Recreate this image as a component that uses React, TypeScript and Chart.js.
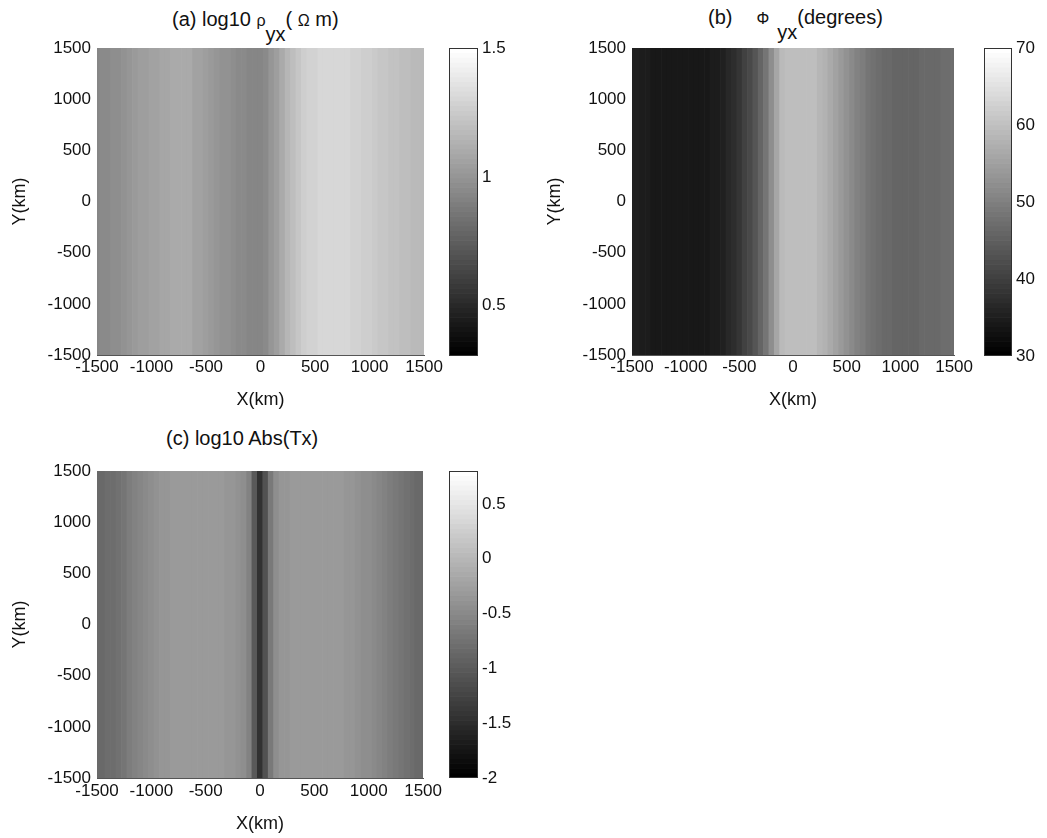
import React, { useEffect, useRef } from "react";
import { Chart, registerables } from "chart.js";

Chart.register(...registerables);

// ---------- data ----------
const X_KM = [
  -1500, -1450, -1400, -1350, -1300, -1250, -1200, -1150, -1100, -1050, -1000,
  -950, -900, -850, -800, -750, -700, -650, -600, -550, -500, -450, -400, -350,
  -300, -250, -200, -150, -100, -50, 0, 50, 100, 150, 200, 250, 300, 350, 400,
  450, 500, 550, 600, 650, 700, 750, 800, 850, 900, 950, 1000, 1050, 1100,
  1150, 1200, 1250, 1300, 1350, 1400, 1450, 1500,
];

// (a) log10 rho_yx (Ohm m)
const RHO_YX_LOG10 = [
  0.93, 0.94, 0.95, 0.96, 0.97, 0.985, 1.0, 1.02, 1.04, 1.05, 1.06, 1.07, 1.08,
  1.085, 1.09, 1.095, 1.1, 1.09, 1.07, 1.055, 1.04, 1.025, 1.01, 0.995, 0.98,
  0.965, 0.95, 0.94, 0.93, 0.925, 0.93, 0.955, 1.0, 1.045, 1.09, 1.15, 1.2,
  1.235, 1.26, 1.28, 1.29, 1.3, 1.31, 1.31, 1.31, 1.305, 1.3, 1.29, 1.28, 1.27,
  1.26, 1.245, 1.23, 1.22, 1.21, 1.205, 1.2, 1.19, 1.18, 1.175, 1.17,
];

// (b) phase yx (degrees)
const PHI_YX_DEG = [
  35.6, 35.0, 34.7, 34.4, 34.2, 34.1, 34.1, 34.1, 34.1, 34.1, 34.1, 34.1, 34.1,
  34.1, 34.2, 34.4, 34.7, 35.4, 36.3, 37.4, 38.6, 40.1, 41.8, 43.6, 45.7, 48.5,
  52.0, 56.0, 59.0, 59.6, 59.8, 59.8, 59.8, 59.7, 59.5, 58.7, 57.5, 56.3, 55.1,
  53.9, 52.7, 51.5, 50.4, 49.4, 48.5, 47.8, 47.3, 46.8, 46.3, 46.2, 46.2, 46.2,
  46.2, 46.2, 46.3, 46.5, 46.6, 46.8, 46.9, 47.1, 47.3,
];

// (c) log10 Abs(Tx)
const TX_LOG10_ABS = [
  -0.86, -0.84, -0.81, -0.78, -0.74, -0.69, -0.63, -0.57, -0.52, -0.48, -0.44,
  -0.41, -0.38, -0.35, -0.33, -0.32, -0.32, -0.31, -0.31, -0.31, -0.31, -0.31,
  -0.32, -0.33, -0.35, -0.37, -0.4, -0.44, -0.58, -1.0, -1.45, -1.1, -0.65,
  -0.45, -0.38, -0.34, -0.32, -0.31, -0.3, -0.3, -0.3, -0.3, -0.3, -0.3, -0.32,
  -0.33, -0.35, -0.38, -0.42, -0.44, -0.46, -0.49, -0.52, -0.57, -0.63, -0.68,
  -0.73, -0.77, -0.81, -0.84, -0.86,
];

const Y_EXTENT = [-1500, 1500];
const AXIS_TICKS = [-1500, -1000, -500, 0, 500, 1000, 1500];

const CBAR_A_RANGE = [0.305, 1.5];
const CBAR_A_TICKS = [0.5, 1, 1.5];
const CBAR_B_RANGE = [30, 70];
const CBAR_B_TICKS = [30, 40, 50, 60, 70];
const CBAR_C_RANGE = [-2, 0.8];
const CBAR_C_TICKS = [-2, -1.5, -1, -0.5, 0, 0.5];

const GRAY_LEVELS = 64;

// ---------- styling ----------
const FONT = "'Liberation Sans', Arial, Helvetica, sans-serif";
const TXT = "#111";
const TICK_SIZE = 17;
const AXIS_TITLE_SIZE = 18;
const TITLE_SIZE = 20;

function grayFor(v: number, range: number[]) {
  const t = (v - range[0]) / (range[1] - range[0]);
  let k = Math.floor(t * GRAY_LEVELS);
  if (k < 0) k = 0;
  if (k > GRAY_LEVELS - 1) k = GRAY_LEVELS - 1;
  const g = Math.round((k / (GRAY_LEVELS - 1)) * 255);
  return `rgb(${g},${g},${g})`;
}

type Box = { left: number; top: number; width: number; height: number };
type Area = { left: number; top: number; right: number; bottom: number };

const frameBox = {
  id: "frameBox",
  afterDraw(chart: any) {
    const { ctx, chartArea: a } = chart;
    ctx.save();
    ctx.strokeStyle = "#333";
    ctx.lineWidth = 1;
    ctx.strokeRect(a.left + 0.5, a.top + 0.5, a.right - a.left - 1, a.bottom - a.top - 1);
    ctx.restore();
  },
};

function Heatmap(props: {
  box: Box;
  area: Area;
  xs: number[];
  vals: number[];
  range: number[];
  yTitlePad: number;
  xTitlePad: number;
  xTickPad: number;
}) {
  const ref = useRef<HTMLCanvasElement>(null);
  const { box, area, xs, vals, range, yTitlePad, xTitlePad, xTickPad } = props;
  useEffect(() => {
    const yAxisW = area.left - box.left;
    const xAxisH = box.top + box.height - area.bottom;
    const font = { family: FONT, size: TICK_SIZE };
    const tfont = { family: FONT, size: AXIS_TITLE_SIZE };
    const chart = new Chart(ref.current as HTMLCanvasElement, {
      type: "bar",
      data: {
        datasets: [
          {
            data: xs.map((x) => ({ x, y: [Y_EXTENT[0], Y_EXTENT[1]] })) as any,
            backgroundColor: vals.map((v) => grayFor(v, range)),
            borderWidth: 0,
            barPercentage: 1,
            categoryPercentage: 1,
            clip: 0,
          } as any,
        ],
      },
      options: {
        animation: false,
        responsive: false,
        maintainAspectRatio: false,
        events: [],
        layout: {
          padding: {
            left: 0,
            top: area.top - box.top,
            right: box.left + box.width - area.right,
            bottom: 0,
          },
        },
        plugins: { legend: { display: false }, tooltip: { enabled: false } },
        scales: {
          x: {
            type: "linear",
            min: Y_EXTENT[0],
            max: Y_EXTENT[1],
            offset: false,
            afterBuildTicks: (s: any) => {
              s.ticks = AXIS_TICKS.map((value) => ({ value }));
            },
            afterFit: (s: any) => {
              s.height = xAxisH;
            },
            grid: { display: false, drawTicks: false },
            border: { display: true, color: "#555", width: 1, z: 2 } as any,
            ticks: {
              autoSkip: false,
              maxRotation: 0,
              minRotation: 0,
              padding: xTickPad,
              color: TXT,
              font,
              callback: (v: any) => String(v),
            },
            title: {
              display: true,
              text: "X(km)",
              color: TXT,
              font: tfont,
              padding: { top: 0, bottom: xTitlePad },
            },
          },
          y: {
            type: "linear",
            min: Y_EXTENT[0],
            max: Y_EXTENT[1],
            afterBuildTicks: (s: any) => {
              s.ticks = AXIS_TICKS.map((value) => ({ value }));
            },
            afterFit: (s: any) => {
              s.width = yAxisW;
            },
            grid: { display: false, drawTicks: false },
            border: { display: false },
            ticks: {
              autoSkip: false,
              padding: 6,
              color: TXT,
              font,
              callback: (v: any) => String(v),
            },
            title: {
              display: true,
              text: "Y(km)",
              color: TXT,
              font: tfont,
              padding: { top: yTitlePad, bottom: 0 },
            },
          },
        },
      } as any,
    });
    return () => chart.destroy();
  }, []);
  return (
    <canvas
      ref={ref}
      width={box.width}
      height={box.height}
      style={{ position: "absolute", left: box.left, top: box.top, width: box.width, height: box.height }}
    />
  );
}

function ColorBar(props: { box: Box; area: Area; range: number[]; ticks: number[] }) {
  const ref = useRef<HTMLCanvasElement>(null);
  const { box, area, range, ticks } = props;
  useEffect(() => {
    const step = (range[1] - range[0]) / GRAY_LEVELS;
    const levels = Array.from({ length: GRAY_LEVELS }, (_, k) => range[0] + (k + 0.5) * step);
    const axisW = box.left + box.width - area.right;
    const chart = new Chart(ref.current as HTMLCanvasElement, {
      type: "bar",
      data: {
        datasets: [
          {
            data: levels.map((c) => ({ y: c, x: [0, 1] })) as any,
            backgroundColor: levels.map((c) => grayFor(c, range)),
            borderWidth: 0,
            barPercentage: 1,
            categoryPercentage: 1,
            clip: 0,
          } as any,
        ],
      },
      options: {
        indexAxis: "y",
        animation: false,
        responsive: false,
        maintainAspectRatio: false,
        events: [],
        layout: {
          padding: {
            left: area.left - box.left,
            top: area.top - box.top,
            right: 0,
            bottom: box.top + box.height - area.bottom,
          },
        },
        plugins: { legend: { display: false }, tooltip: { enabled: false } },
        scales: {
          y: {
            type: "linear",
            position: "right",
            min: range[0],
            max: range[1],
            offset: false,
            afterBuildTicks: (s: any) => {
              s.ticks = ticks.map((value) => ({ value }));
            },
            afterFit: (s: any) => {
              s.width = axisW;
            },
            grid: { display: false, drawTicks: false },
            border: { display: false },
            ticks: {
              autoSkip: false,
              padding: 4,
              color: TXT,
              font: { family: FONT, size: TICK_SIZE },
              callback: (v: any) => String(v),
            },
          },
          x: { type: "linear", min: 0, max: 1, display: false },
        },
      } as any,
      plugins: [frameBox],
    });
    return () => chart.destroy();
  }, []);
  return (
    <canvas
      ref={ref}
      width={box.width}
      height={box.height}
      style={{ position: "absolute", left: box.left, top: box.top, width: box.width, height: box.height }}
    />
  );
}

const titleStyle = (left: number, top: number): React.CSSProperties => ({
  position: "absolute",
  left,
  top,
  fontFamily: FONT,
  fontSize: TITLE_SIZE,
  lineHeight: "22px",
  color: TXT,
  whiteSpace: "nowrap",
});

const sub: React.CSSProperties = { position: "relative", top: 15 };

export default function App() {
  return (
    <div
      style={{
        position: "absolute",
        left: 0,
        top: 0,
        width: 1047,
        height: 838,
        background: "#fff",
        overflow: "hidden",
      }}
    >
      <div style={titleStyle(172, 8)}>
        (a) log10 <span style={{ fontSize: 16 }}>ρ</span>
        <span style={sub}>yx</span>
        <span>( </span>
        <span style={{ fontSize: 16 }}>Ω</span>
        <span> m)</span>
      </div>
      <div style={titleStyle(708, 6)}>
        (b)<span style={{ marginLeft: 24, fontSize: 16 }}>Φ</span>
        <span style={{ ...sub, marginLeft: 8 }}>yx</span>
        <span>(degrees)</span>
      </div>
      <div style={titleStyle(166, 427)}>(c) log10 Abs(Tx)</div>

      <Heatmap
        box={{ left: 0, top: 0, width: 445, height: 420 }}
        area={{ left: 97, top: 48, right: 430, bottom: 355 }}
        xs={X_KM}
        vals={RHO_YX_LOG10}
        range={CBAR_A_RANGE}
        yTitlePad={9}
        xTitlePad={9}
        xTickPad={2}
      />
      <ColorBar
        box={{ left: 440, top: 0, width: 83, height: 405 }}
        area={{ left: 449, top: 48, right: 478, bottom: 356 }}
        range={CBAR_A_RANGE}
        ticks={CBAR_A_TICKS}
      />

      <Heatmap
        box={{ left: 520, top: 0, width: 455, height: 420 }}
        area={{ left: 632, top: 48, right: 964, bottom: 355 }}
        xs={X_KM}
        vals={PHI_YX_DEG}
        range={CBAR_B_RANGE}
        yTitlePad={24}
        xTitlePad={9}
        xTickPad={2}
      />
      <ColorBar
        box={{ left: 975, top: 0, width: 72, height: 405 }}
        area={{ left: 984, top: 48, right: 1012, bottom: 356 }}
        range={CBAR_B_RANGE}
        ticks={CBAR_B_TICKS}
      />

      <Heatmap
        box={{ left: 0, top: 420, width: 445, height: 418 }}
        area={{ left: 97, top: 471, right: 429, bottom: 778 }}
        xs={X_KM}
        vals={TX_LOG10_ABS}
        range={CBAR_C_RANGE}
        yTitlePad={9}
        xTitlePad={3}
        xTickPad={3}
      />
      <ColorBar
        box={{ left: 440, top: 420, width: 85, height: 418 }}
        area={{ left: 449, top: 471, right: 478, bottom: 778 }}
        range={CBAR_C_RANGE}
        ticks={CBAR_C_TICKS}
      />
    </div>
  );
}
